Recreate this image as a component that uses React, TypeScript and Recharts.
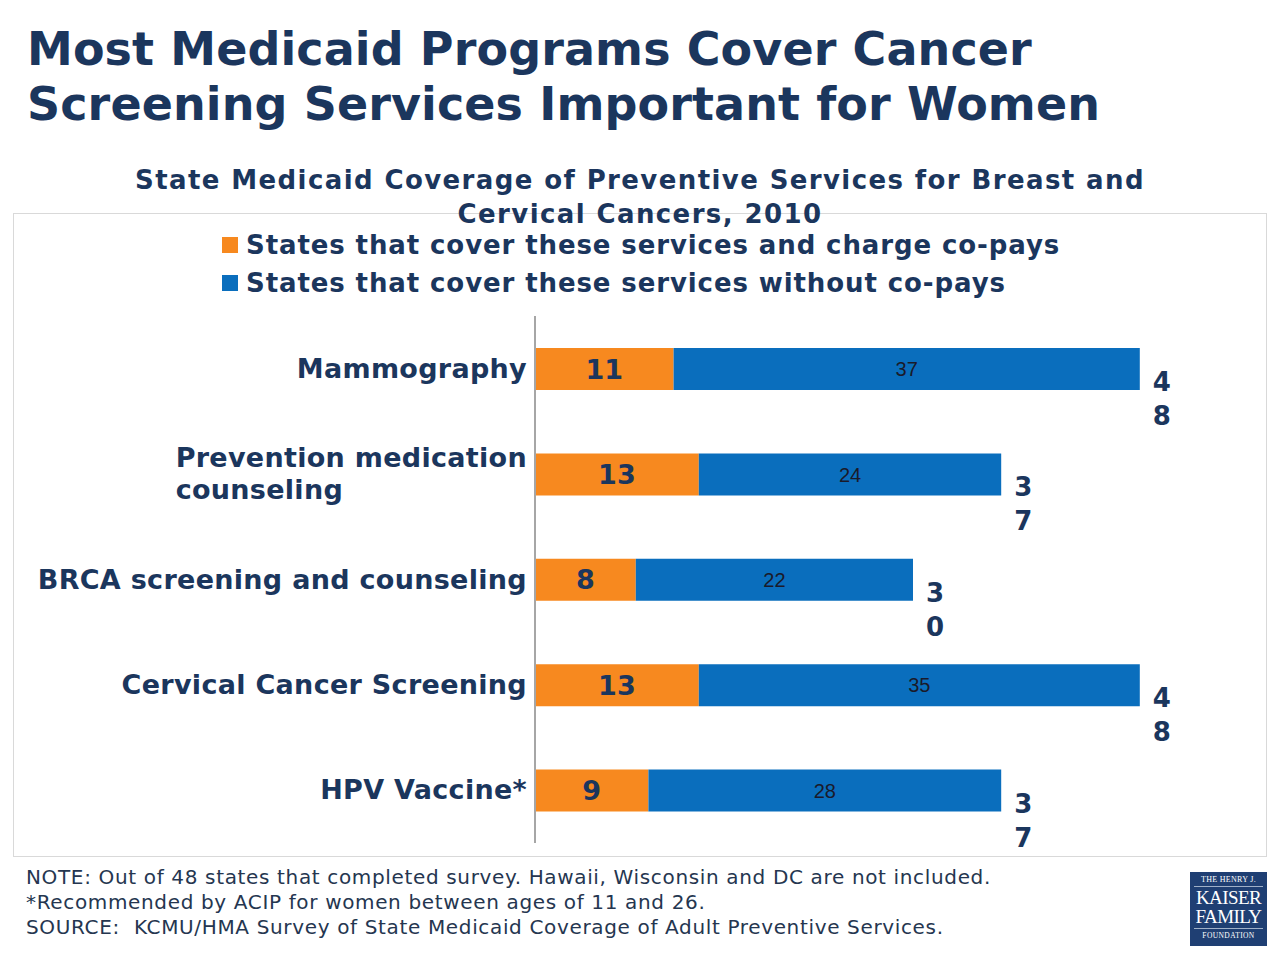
import React from "react";
import { BarChart, Bar, XAxis, YAxis, LabelList } from "recharts";

const categories = [
  "Mammography",
  "Prevention medication counseling",
  "BRCA screening and counseling",
  "Cervical Cancer Screening",
  "HPV Vaccine*",
];
// label lines for categories that wrap in the original
const categoryLines: string[][] = [
  ["Mammography"],
  ["Prevention medication", "counseling"],
  ["BRCA screening and counseling"],
  ["Cervical Cancer Screening"],
  ["HPV Vaccine*"],
];
const withCopays = [11, 13, 8, 13, 9];
const withoutCopays = [37, 24, 22, 35, 28];
const seriesNames = [
  "States that cover these services and charge co-pays",
  "States that cover these services without co-pays",
];

const ORANGE = "#F7891F";
const BLUE = "#0A6EBD";
const NAVY = "#1B365D";
const FONT = "'DejaVu Sans', sans-serif";
const CAT_LS = 0.3;

const data = categories.map((name, i) => ({
  name,
  copay: withCopays[i],
  free: withoutCopays[i],
  total: withCopays[i] + withoutCopays[i],
  lines: categoryLines[i],
}));

let ctx: CanvasRenderingContext2D | null = null;
function textWidth(s: string, font: string) {
  if (!ctx) ctx = document.createElement("canvas").getContext("2d");
  if (!ctx) return s.length * 15;
  ctx.font = font;
  return ctx.measureText(s).width + s.length * CAT_LS;
}

const CatTick = (props: any) => {
  const { x, y, index } = props;
  const lines: string[] = data[index]?.lines ?? [String(props.payload?.value)];
  const font = `bold 27px ${FONT}`;
  const common = { fill: NAVY, fontFamily: FONT, fontWeight: "bold", fontSize: 27, letterSpacing: CAT_LS };
  if (lines.length === 1) {
    return (
      <text x={x} y={y} dy={9} textAnchor="end" {...common}>
        {lines[0]}
      </text>
    );
  }
  const left = x - textWidth(lines[0], font);
  return (
    <g>
      {lines.map((l, k) => (
        <text key={k} x={left} y={y + (k - (lines.length - 1) / 2) * 32} dy={9} textAnchor="start" {...common}>
          {l}
        </text>
      ))}
    </g>
  );
};

const TotalLabel = (props: any) => {
  const { x, y, width, height, value } = props;
  const cx = x + width + 22;
  const cy = y + height / 2;
  const digits = String(value).split("");
  return (
    <g>
      {digits.map((d, k) => (
        <text
          key={k}
          x={cx}
          y={cy + 13 + k * 34}
          dy={9}
          textAnchor="middle"
          fill={NAVY}
          fontFamily={FONT}
          fontWeight="bold"
          fontSize={26}
        >
          {d}
        </text>
      ))}
    </g>
  );
};

export default function App() {
  return (
    <div style={{ position: "fixed", left: 0, top: 0, width: 1280, height: 960, background: "#fff", fontFamily: FONT, overflow: "hidden" }}>
      <div style={{ position: "absolute", left: 13, top: 213, width: 1252, height: 642, border: "1.5px solid #d9d9d9" }} />
      <div style={{ position: "absolute", left: 0, top: 0 }}>
        <BarChart
          width={1280}
          height={960}
          data={data}
          layout="vertical"
          margin={{ top: 316, bottom: 117, left: 0, right: 52 }}
          barCategoryGap={0}
        >
          <XAxis type="number" domain={[0, 55]} hide />
          <YAxis
            type="category"
            dataKey="name"
            width={535}
            tick={<CatTick />}
            tickLine={false}
            axisLine={{ stroke: "#a6a6a6", strokeWidth: 2 }}
            interval={0}
          />
          <Bar dataKey="copay" stackId="a" fill={ORANGE} barSize={42} isAnimationActive={false}>
            <LabelList dataKey="copay" position="center" fill={NAVY} fontFamily={FONT} fontWeight="bold" fontSize={27} />
          </Bar>
          <Bar dataKey="free" stackId="a" fill={BLUE} barSize={42} isAnimationActive={false}>
            <LabelList dataKey="free" position="center" fill="#1a1a2a" fontFamily="'Liberation Sans', Arial, sans-serif" fontSize={20} />
            <LabelList dataKey="total" content={<TotalLabel />} />
          </Bar>
        </BarChart>
      </div>

      <div style={{ position: "absolute", left: 27, top: 22, color: NAVY, fontWeight: "bold", fontSize: 46, lineHeight: "55px", whiteSpace: "nowrap", letterSpacing: 0.1 }}>
        Most Medicaid Programs Cover Cancer
        <br />
        Screening Services Important for Women
      </div>

      <div style={{ position: "absolute", left: 0, width: 1280, top: 163, textAlign: "center", color: NAVY, fontWeight: "bold", fontSize: 26, lineHeight: "34px", letterSpacing: 1.4 }}>
        State Medicaid Coverage of Preventive Services for Breast and
        <br />
        Cervical Cancers, 2010
      </div>

      <div style={{ position: "absolute", left: 222, top: 226, color: NAVY, fontWeight: "bold", fontSize: 26, lineHeight: "38px", whiteSpace: "nowrap", letterSpacing: 0.9 }}>
        {seriesNames.map((s, i) => (
          <div key={s} style={{ display: "flex", alignItems: "center" }}>
            <span style={{ display: "inline-block", width: 16, height: 16, background: i === 0 ? ORANGE : BLUE, marginRight: 8 }} />
            {s}
          </div>
        ))}
      </div>

      <div style={{ position: "absolute", left: 26, top: 865, color: "#253650", fontSize: 20, lineHeight: "25px", whiteSpace: "nowrap", letterSpacing: 0.65 }}>
        NOTE: Out of 48 states that completed survey. Hawaii, Wisconsin and DC are not included.
        <br />
        *Recommended by ACIP for women between ages of 11 and 26.
        <br />
        SOURCE:&nbsp; KCMU/HMA Survey of State Medicaid Coverage of Adult Preventive Services.
      </div>

      <div style={{ position: "absolute", left: 1190, top: 872, width: 77, height: 74, background: "#1F3F73", color: "#fff", fontFamily: "'Liberation Serif', serif", textAlign: "center", lineHeight: 1, overflow: "hidden" }}>
        <div style={{ fontSize: 8, marginTop: 4, letterSpacing: 0.3 }}>THE HENRY J.</div>
        <div style={{ borderTop: "1px solid #9fb0c8", margin: "2px 4px 0" }} />
        <div style={{ fontSize: 19, marginTop: 1, letterSpacing: -0.6 }}>KAISER</div>
        <div style={{ fontSize: 19, letterSpacing: -0.6 }}>FAMILY</div>
        <div style={{ borderTop: "1px solid #9fb0c8", margin: "2px 4px 0" }} />
        <div style={{ fontSize: 7.5, marginTop: 3, letterSpacing: 0.4 }}>FOUNDATION</div>
      </div>
    </div>
  );
}
